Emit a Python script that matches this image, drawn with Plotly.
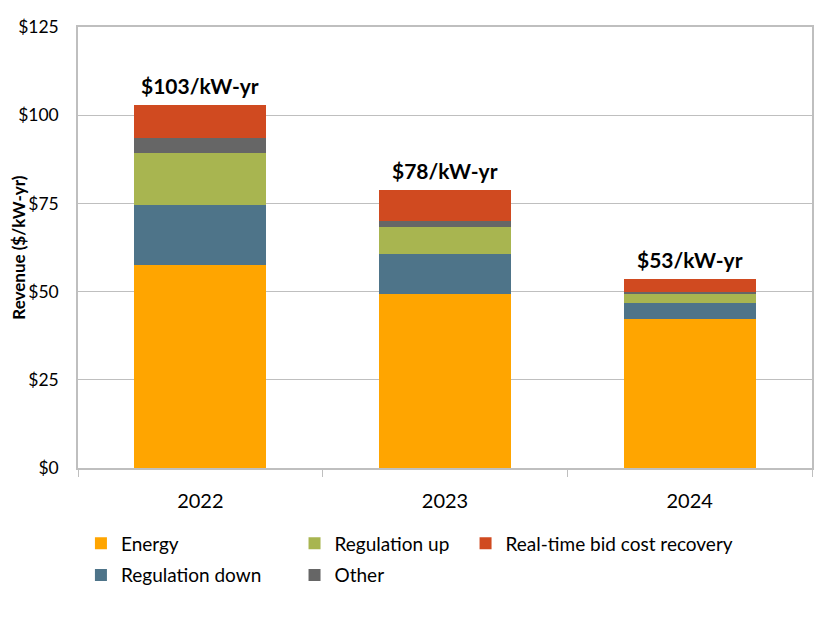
import plotly.graph_objects as go

years = ["2022", "2023", "2024"]
energy = [57.5, 49.2, 42.1]
reg_down = [17.1, 11.5, 4.7]
reg_up = [14.8, 7.7, 2.4]
other = [4.0, 1.5, 0.8]
rt_bcr = [9.4, 8.8, 3.7]
totals = [102.8, 78.7, 53.7]
total_labels = ["$103/kW-yr", "$78/kW-yr", "$53/kW-yr"]
y_ticks = [0, 25, 50, 75, 100, 125]
y_tick_text = ["$" + str(v) for v in y_ticks]

FONT = "Lato"

series = [
    ("Energy", energy, "#FFA500", "legend"),
    ("Regulation down", reg_down, "#4E7489", "legend"),
    ("Regulation up", reg_up, "#A8B550", "legend2"),
    ("Other", other, "#666666", "legend2"),
    ("Real-time bid cost recovery", rt_bcr, "#D04A20", "legend3"),
]

fig = go.Figure()
for name, vals, color, lg in series:
    fig.add_trace(go.Bar(
        x=years, y=vals, name=name, marker=dict(color=color, line=dict(width=0)),
        legend=lg, legendgroup=name,
    ))

# annotation x given as category index (numeric-looking strings would be read as numbers)
for i, (tot, lab) in enumerate(zip(totals, total_labels)):
    fig.add_annotation(x=i, y=tot, xref="x", yref="y", text="<b>" + lab + "</b>",
                       showarrow=False, yanchor="bottom", yshift=5,
                       font=dict(family=FONT, size=21, color="#000000"))

fig.add_annotation(x=-0.0815, y=0.5, xref="paper", yref="paper", textangle=-90,
                   text="<b>Revenue ($/kW-yr)</b>", showarrow=False,
                   xanchor="center", yanchor="middle",
                   font=dict(family=FONT, size=17, color="#000000"))

leg_common = dict(orientation="v", yanchor="top", xanchor="left",
                  font=dict(family=FONT, size=19, color="#000000"),
                  bgcolor="rgba(0,0,0,0)", traceorder="grouped", tracegroupgap=4)

fig.update_layout(
    barmode="stack",
    bargap=0.46,
    width=826, height=620,
    margin=dict(l=78, r=12, t=27, b=152),
    plot_bgcolor="white", paper_bgcolor="white",
    font=dict(family=FONT, size=16, color="#000000"),
    legend=dict(x=0.004, y=-0.128, **leg_common),
    legend2=dict(x=0.295, y=-0.128, **leg_common),
    legend3=dict(x=0.528, y=-0.128, **leg_common),
    xaxis=dict(type="category", showline=True, linecolor="#BFBFBF", linewidth=1.5,
               mirror=True, ticks="outside", tickson="boundaries", ticklen=7,
               tickcolor="#BFBFBF", ticklabelstandoff=14,
               tickfont=dict(family=FONT, size=20, color="#000000")),
    yaxis=dict(range=[0, 125], tickvals=y_ticks, ticktext=y_tick_text, showline=True,
               linecolor="#BFBFBF", linewidth=1.5, mirror=True, gridcolor="#BFBFBF",
               gridwidth=1.2, ticks="", ticklabelstandoff=14,
               tickfont=dict(family=FONT, size=17.5, color="#000000")),
)

fig.write_html("out.html", config={"displayModeBar": False},
               post_script="document.body.style.margin='0';")
